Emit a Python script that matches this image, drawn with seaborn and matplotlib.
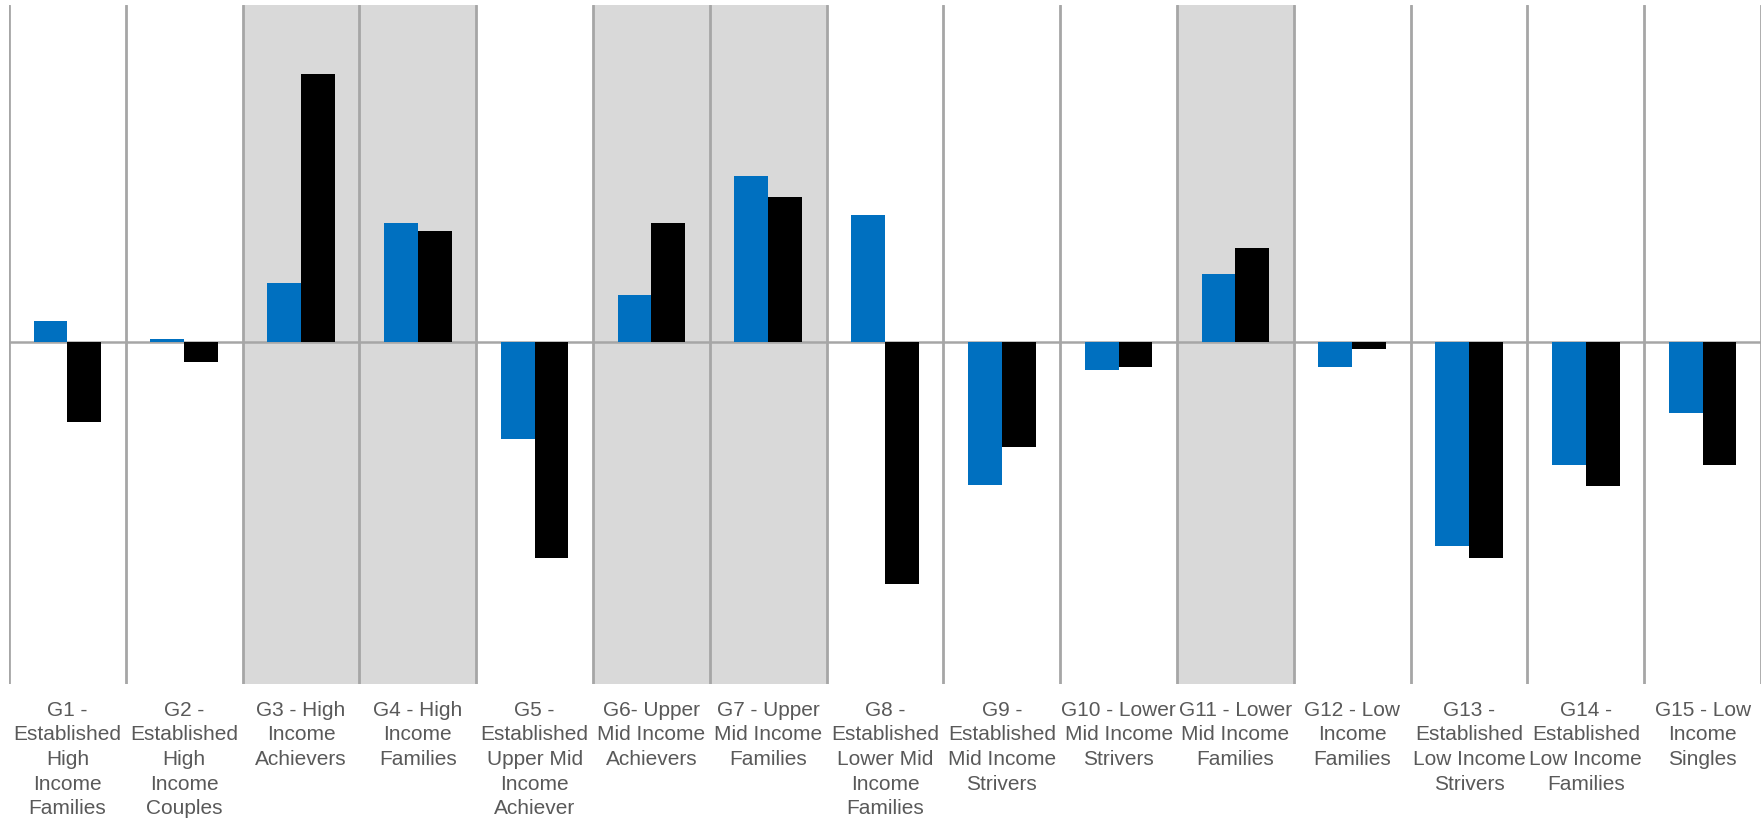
import matplotlib
matplotlib.use("Agg")
import matplotlib.pyplot as plt
import seaborn as sns
import pandas as pd

# Segment labels (wrapped as they appear under each column)
categories = [
    "G1 -\nEstablished\nHigh\nIncome\nFamilies",
    "G2 -\nEstablished\nHigh\nIncome\nCouples",
    "G3 - High\nIncome\nAchievers",
    "G4 - High\nIncome\nFamilies",
    "G5 -\nEstablished\nUpper Mid\nIncome\nAchiever",
    "G6- Upper\nMid Income\nAchievers",
    "G7 - Upper\nMid Income\nFamilies",
    "G8 -\nEstablished\nLower Mid\nIncome\nFamilies",
    "G9 -\nEstablished\nMid Income\nStrivers",
    "G10 - Lower\nMid Income\nStrivers",
    "G11 - Lower\nMid Income\nFamilies",
    "G12 - Low\nIncome\nFamilies",
    "G13 -\nEstablished\nLow Income\nStrivers",
    "G14 -\nEstablished\nLow Income\nFamilies",
    "G15 - Low\nIncome\nSingles",
]

series_names = ["Series 1", "Series 2"]
blue_values = [19, 3, 53, 106, -86, 42, 148, 113, -127, -25, 61, -22, -181, -109, -63]
black_values = [-71, -18, 239, 99, -192, 106, 129, -215, -93, -22, 84, -6, -192, -128, -109]

# Columns drawn on a grey background
highlighted = [2, 3, 5, 6, 10]

colors = {"Series 1": "#0070c0", "Series 2": "#000000"}

df = pd.DataFrame({
    "segment": categories * 2,
    "series": [series_names[0]] * len(categories) + [series_names[1]] * len(categories),
    "value": blue_values + black_values,
})

sns.set_theme(style="white")
plt.rcParams["font.family"] = ["Liberation Sans", "DejaVu Sans"]

fig = plt.figure(figsize=(17.61, 8.18), dpi=100)
W, H = 1761, 818
left, right, top, bottom = 9, 1761, 5, 684
ax = fig.add_axes([left / W, 1 - bottom / H, (right - left) / W, (bottom - top) / H])

n = len(categories)
for i in highlighted:
    ax.axvspan(i - 0.5, i + 0.5, color="#d9d9d9", zorder=0, lw=0)
for i in range(n + 1):
    ax.axvline(i - 0.5, color="#a6a6a6", lw=2.0, zorder=1)
ax.axhline(0, color="#a6a6a6", lw=1.8, zorder=1)

sns.barplot(
    data=df, x="segment", y="value", hue="series", order=categories,
    hue_order=series_names, palette=colors, width=0.58, gap=0,
    saturation=1, legend=False, errorbar=None, ax=ax, zorder=3,
    linewidth=0, edgecolor="none",
)

ax.set_xlim(-0.5, n - 0.5)
ax.set_ylim(-304, 300)
ax.set_xlabel("")
ax.set_ylabel("")
ax.set_yticks([])
ax.tick_params(axis="x", length=0, pad=12)
for lbl in ax.get_xticklabels():
    lbl.set_fontsize(15)
    lbl.set_color("#595959")
    lbl.set_linespacing(1.38)
    lbl.set_verticalalignment("top")
for s in ax.spines.values():
    s.set_visible(False)

fig.savefig("out.png", dpi=100, facecolor="white")
